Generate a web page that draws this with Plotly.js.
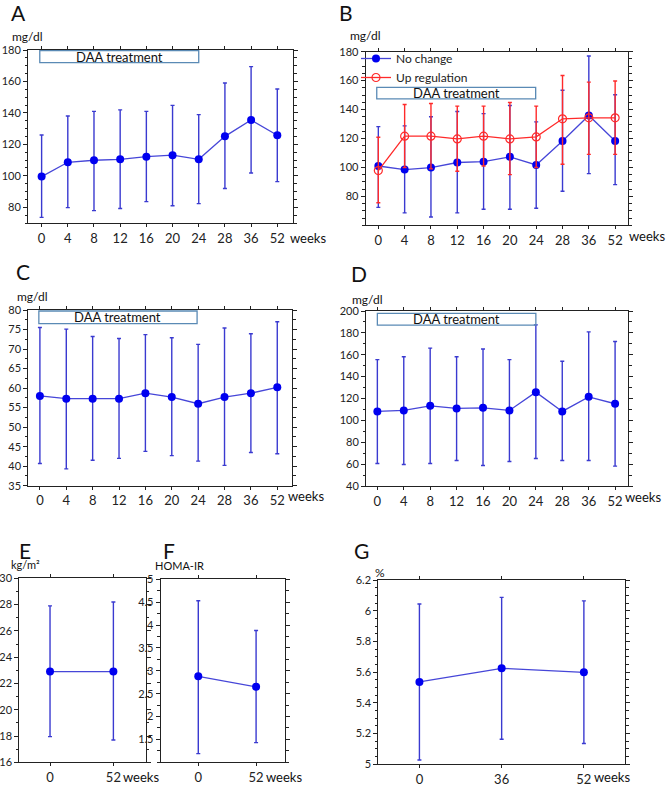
<!DOCTYPE html>
<html><head><meta charset="utf-8">
<script src="https://cdn.plot.ly/plotly-3.0.1.min.js"></script>
<style>html,body{margin:0;padding:0;background:#fff;}#chart{width:669px;height:787px;}</style>
</head><body><div id="chart"></div>
<script>
// ---- data ----
const weeks10 = ['0','4','8','12','16','20','24','28','36','52'];
const weeks2 = ['0','52'];
const weeks3 = ['0','36','52'];

const aMean  = [99.5,108.6,109.9,110.5,112.2,113.1,110.5,125.1,135.5,125.8];
const aUpper = [126,138,141,141.9,141,144.8,138.9,159,169.4,155.2];
const aLower = [73.6,79.8,77.9,79.2,83.6,81,82.3,91.9,101.8,96.3];

const bNoMean  = [101,98.5,99.9,103.4,104,107.3,101.7,118.3,135.9,118.3];
const bNoUpper = [128.2,128.7,135,138.7,137.2,142.8,131.5,153.4,177,150.2];
const bNoLower = [72.4,68.6,65.7,68.6,71.1,71.1,71.8,83.5,95.7,88.1];
const bUpMean  = [97.8,121.6,121.6,119.7,121.6,119.7,121.1,133.6,134.3,134.3];
const bUpUpper = [120.9,143.5,144.2,142.4,142.4,144.9,142.4,163.6,159,159.7];
const bUpLower = [75.6,100,99,97.4,101,95,100,102.2,109,109];

const cMean  = [58,57.3,57.3,57.3,58.7,57.7,56,57.7,58.7,60.2];
const cUpper = [75.5,75.1,73.2,72.7,73.7,72.9,71.2,75.4,73.9,77];
const cLower = [40.7,39.3,41.5,42,43.8,42.7,41.3,40.2,43.5,43.2];

const dMean  = [108.2,109.1,113.3,110.9,111.5,109.1,125.8,108.2,121.5,115.2];
const dUpper = [155.5,158.2,166.1,158.2,165.2,155.5,187.3,154,180.9,172.1];
const dLower = [60.6,59.7,60.6,63.3,58.8,62.4,65.2,63.3,63.3,58.2];

const eMean  = [22.9,22.9];
const eUpper = [27.9,28.2];
const eLower = [17.95,17.7];

const fMean  = [2.88,2.65];
const fUpper = [4.53,3.88];
const fLower = [1.19,1.43];

const gMean  = [5.536,5.625,5.599];
const gUpper = [6.044,6.087,6.064];
const gLower = [5.028,5.163,5.135];

// ---- helpers ----
const W = 669, H = 787;
const P = x => x / W;
const Q = y => 1 - y / H;
const FONT = 'Lato, "Open Sans", sans-serif';
const BLUE_M = '#0000f0', BLUE_L = '#4646d8', BLUE_E = '#3a3ad0';
const RED = '#ff2a2a';

function series(n, x, mean, up, lo, opt) {
  opt = opt || {};
  return {
    type: 'scatter', mode: 'lines+markers',
    x: x, y: mean, name: opt.name || '',
    showlegend: !!opt.name,
    xaxis: 'x' + (n === 1 ? '' : n), yaxis: 'y' + (n === 1 ? '' : n),
    line: {color: opt.lcolor || BLUE_L, width: 1.3},
    marker: {color: opt.mcolor || BLUE_M, size: 8, symbol: opt.symbol || 'circle',
             line: {color: opt.mcolor || BLUE_M, width: opt.symbol ? 1.2 : 0}},
    error_y: {type: 'data', symmetric: false,
      array: up.map((v, i) => v - mean[i]),
      arrayminus: lo.map((v, i) => mean[i] - v),
      color: opt.ecolor || BLUE_E, thickness: 1.4, width: 2}
  };
}

function xax(dom, range, anchor) {
  return {domain: dom, range: range, type: 'category', anchor: anchor,
    showline: true, linecolor: '#222', linewidth: 1, mirror: 'allticks',
    ticks: 'outside', ticklen: 3, tickcolor: '#222', showgrid: false, zeroline: false,
    tickangle: 0, automargin: false,
    tickfont: {family: FONT, size: 13, color: '#222'}, fixedrange: true};
}
function yax(dom, range, anchor, major, minor) {
  const a = {domain: dom, range: range, anchor: anchor,
    showline: true, linecolor: '#222', linewidth: 1, mirror: 'allticks',
    ticks: 'outside', ticklen: 4, tickcolor: '#222', showgrid: false, zeroline: false,
    tickangle: 0, automargin: false, ticklabeloverflow: 'allow',
    tickfont: {family: FONT, size: 11, color: '#222'}};
  if (minor) a.minor = {dtick: minor, tick0: 0, ticks: 'outside', ticklen: 2.5, tickcolor: '#222', showgrid: false};
  if (Array.isArray(major)) { a.tickmode = 'array'; a.tickvals = major; }
  else { a.dtick = major; a.tick0 = 0; }
  return a;
}

const traces = [
  series(1, weeks10, aMean, aUpper, aLower),
  series(2, weeks10, bNoMean, bNoUpper, bNoLower, {name: 'No change'}),
  series(2, weeks10, bUpMean, bUpUpper, bUpLower, {name: 'Up regulation', lcolor: RED, mcolor: RED, ecolor: RED, symbol: 'circle-open'}),
  series(3, weeks10, cMean, cUpper, cLower),
  series(4, weeks10, dMean, dUpper, dLower),
  series(5, weeks2, eMean, eUpper, eLower),
  series(6, weeks2, fMean, fUpper, fLower),
  series(7, weeks3, gMean, gUpper, gLower)
];

const layout = {
  width: W, height: H, autosize: false,
  margin: {l: 0, r: 0, t: 0, b: 0},
  paper_bgcolor: '#fff', plot_bgcolor: '#fff',
  font: {family: FONT, color: '#222'},
  xaxis:  xax([P(28), P(293)], [-0.52, 9.6], 'y'),
  yaxis:  yax([Q(223), Q(50)], [70, 180], 'x', [80,100,120,140,160,180], 5),
  xaxis2: xax([P(365.7), P(628.3)], [-0.48, 9.5], 'y2'),
  yaxis2: yax([Q(225.3), Q(51.7)], [60, 180], 'x2', [80,100,120,140,160,180], 5),
  xaxis3: xax([P(28.3), P(292.3)], [-0.44, 9.57], 'y3'),
  yaxis3: yax([Q(485.7), Q(310)], [35, 80], 'x3', 5, 2.5),
  xaxis4: xax([P(366), P(628.3)], [-0.43, 9.5], 'y4'),
  yaxis4: yax([Q(486), Q(311)], [40, 200], 'x4', 20, 10),
  xaxis5: xax([P(19.3), P(145.7)], [-0.485, 1.51], 'y5'),
  yaxis5: yax([Q(762.3), Q(578.3)], [16, 30], 'x5', 2, 1),
  xaxis6: xax([P(160.7), P(285)], [-0.65, 1.5], 'y6'),
  yaxis6: yax([Q(762.3), Q(579.3)], [1, 5], 'x6', [1.5,2,2.5,3,3.5,4,4.5,5], 0.25),
  xaxis7: xax([P(378.3), P(625)], [-0.5, 2.5], 'y7'),
  yaxis7: yax([Q(764.3), Q(580)], [5, 6.2], 'x7', 0.2, 0.05),
  showlegend: true,
  legend: {x: P(356), y: Q(44), xanchor: 'left', yanchor: 'top', bgcolor: 'rgba(0,0,0,0)',
           font: {family: FONT, size: 12, color: '#222'}, itemwidth: 30, tracegroupgap: 0},
  shapes: [],
  annotations: []
};

// DAA treatment boxes (subplot data coords)
const boxes = [
  ['x', 'y', -0.07, 6.0, 172, 179.6],
  ['x2', 'y2', -0.06, 5.98, 147.4, 155.3],
  ['x3', 'y3', -0.04, 5.96, 76.5, 79.74],
  ['x4', 'y4', 0, 6.0, 187, 197.9]
];
boxes.forEach(b => {
  layout.shapes.push({type: 'rect', xref: b[0], yref: b[1], x0: b[2], x1: b[3], y0: b[4], y1: b[5],
    line: {color: '#5a8ab5', width: 1.3}, fillcolor: 'rgba(255,255,255,0)', layer: 'above'});
  layout.annotations.push({xref: b[0], yref: b[1], x: (b[2] + b[3]) / 2, y: (b[4] + b[5]) / 2,
    text: 'DAA treatment', showarrow: false, font: {family: FONT, size: 13, color: '#111'},
    xanchor: 'center', yanchor: 'middle'});
});

function txt(t, x, y, size, xanchor) {
  layout.annotations.push({xref: 'paper', yref: 'paper', x: P(x), y: Q(y), text: t, showarrow: false,
    xanchor: xanchor || 'left', yanchor: 'middle', font: {family: FONT, size: size, color: '#111'}});
}
// panel letters
txt('A', 9, 13, 21); txt('B', 337, 12, 21); txt('C', 14, 271, 21); txt('D', 349, 274, 21);
txt('E', 17, 550, 21); txt('F', 161, 550, 21); txt('G', 352, 550, 21);
// units
txt('mg/dl', 10, 37, 12); txt('mg/dl', 348, 36, 12); txt('mg/dl', 15, 297, 12); txt('mg/dl', 350, 299, 12);
txt('kg/m²', 9, 564, 11); txt('HOMA-IR', 153, 565, 11); txt('%', 373, 572, 12);
// "weeks" after last tick
txt('weeks', 288, 238, 13); txt('weeks', 627, 236, 13); txt('weeks', 286, 496, 13); txt('weeks', 623, 497, 13);
txt('weeks', 121, 777, 13); txt('weeks', 264, 777, 13); txt('weeks', 592, 777, 13);

Plotly.newPlot('chart', traces, layout, {staticPlot: true, displayModeBar: false});
</script></body></html>
